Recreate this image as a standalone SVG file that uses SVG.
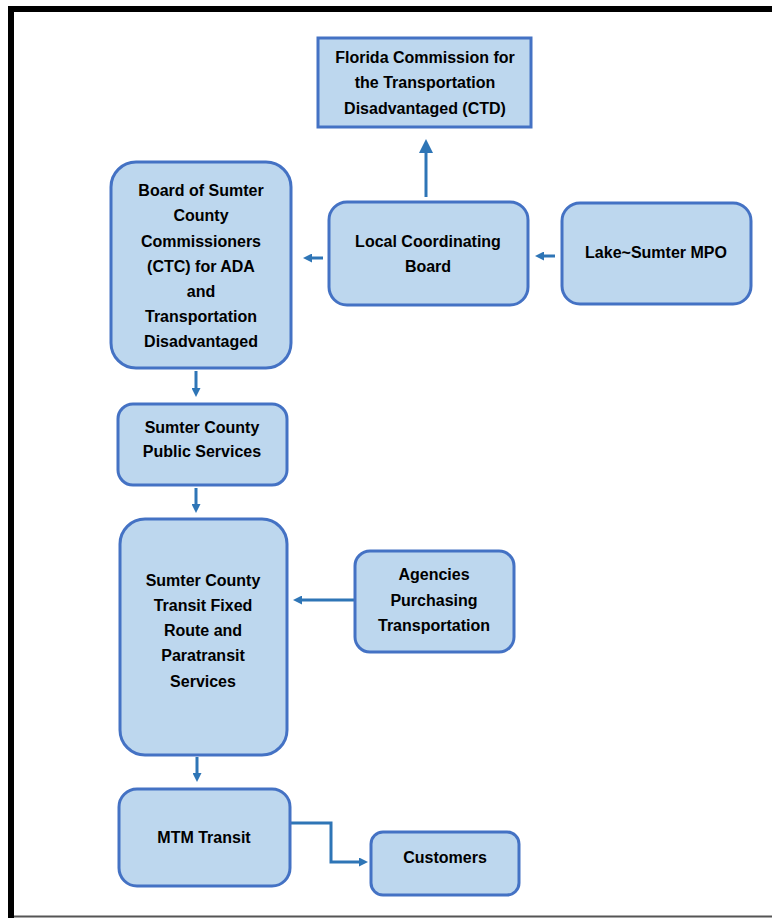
<svg xmlns="http://www.w3.org/2000/svg" width="772" height="918" viewBox="0 0 772 918">
<style>
.box{fill:#BDD7EE;stroke:#4472C4;stroke-width:3}
.t{font-family:"Liberation Sans",Arial,sans-serif;font-weight:bold;font-size:16px;fill:#000;text-anchor:middle}
.c{fill:none;stroke:#2E75B6;stroke-width:3}
</style>
<defs>
<marker id="ah" viewBox="0 0 10 10" refX="0" refY="5" markerWidth="10" markerHeight="9" markerUnits="userSpaceOnUse" orient="auto">
<path d="M0,0 L10,5 L0,10 Z" fill="#2E75B6"/>
</marker>
<marker id="ahb" viewBox="0 0 10 10" refX="0" refY="5" markerWidth="14" markerHeight="14" markerUnits="userSpaceOnUse" orient="auto">
<path d="M0,0 L10,5 L0,10 Z" fill="#2E75B6"/>
</marker>
</defs>
<rect x="0" y="0" width="772" height="918" fill="#fff"/>
<path d="M11,918 V9 H772" fill="none" stroke="#000" stroke-width="6"/>
<line x1="14" y1="916.5" x2="772" y2="916.5" stroke="#555" stroke-width="2"/>

<g id="connectors">
<line class="c" x1="426" y1="197" x2="426" y2="153" stroke-width="4" marker-end="url(#ahb)"/>
<line class="c" x1="323" y1="258" x2="312" y2="258" marker-end="url(#ah)"/>
<line class="c" x1="555" y1="256" x2="544" y2="256" marker-end="url(#ah)"/>
<line class="c" x1="196" y1="371" x2="196" y2="388" marker-end="url(#ah)"/>
<line class="c" x1="196" y1="488" x2="196" y2="504" marker-end="url(#ah)"/>
<line class="c" x1="355" y1="600" x2="302" y2="600" marker-end="url(#ah)"/>
<line class="c" x1="197" y1="757" x2="197" y2="773" marker-end="url(#ah)"/>
<path class="c" d="M290,823 H331 V862 H359" marker-end="url(#ah)"/>
</g>

<g id="ctd">
<rect class="box" x="318" y="38" width="213" height="89"/>
<text class="t" x="425" y="63">Florida Commission for</text>
<text class="t" x="425" y="88">the Transportation</text>
<text class="t" x="425" y="114">Disadvantaged (CTD)</text>
</g>
<g id="board">
<rect class="box" x="111" y="162" width="180" height="206" rx="25"/>
<text class="t" x="201" y="196">Board of Sumter</text>
<text class="t" x="201" y="221">County</text>
<text class="t" x="201" y="247">Commissioners</text>
<text class="t" x="201" y="272">(CTC) for ADA</text>
<text class="t" x="201" y="297">and</text>
<text class="t" x="201" y="322">Transportation</text>
<text class="t" x="201" y="347">Disadvantaged</text>
</g>
<g id="lcb">
<rect class="box" x="329" y="202" width="199" height="103" rx="18"/>
<text class="t" x="428" y="247">Local Coordinating</text>
<text class="t" x="428" y="272">Board</text>
</g>
<g id="mpo">
<rect class="box" x="562" y="203" width="189" height="101" rx="18"/>
<text class="t" x="656" y="258">Lake~Sumter MPO</text>
</g>
<g id="scps">
<rect class="box" x="118" y="404" width="169" height="81" rx="15"/>
<text class="t" x="202" y="433">Sumter County</text>
<text class="t" x="202" y="457">Public Services</text>
</g>
<g id="transit">
<rect class="box" x="120" y="519" width="167" height="236" rx="25"/>
<text class="t" x="203" y="586">Sumter County</text>
<text class="t" x="203" y="611">Transit Fixed</text>
<text class="t" x="203" y="636">Route and</text>
<text class="t" x="203" y="661">Paratransit</text>
<text class="t" x="203" y="687">Services</text>
</g>
<g id="agencies">
<rect class="box" x="355" y="551" width="159" height="101" rx="15"/>
<text class="t" x="434" y="580">Agencies</text>
<text class="t" x="434" y="606">Purchasing</text>
<text class="t" x="434" y="631">Transportation</text>
</g>
<g id="mtm">
<rect class="box" x="119" y="789" width="171" height="97" rx="18"/>
<text class="t" x="204" y="843">MTM Transit</text>
</g>
<g id="customers">
<rect class="box" x="371" y="832" width="148" height="63" rx="12"/>
<text class="t" x="445" y="863">Customers</text>
</g>
</svg>
